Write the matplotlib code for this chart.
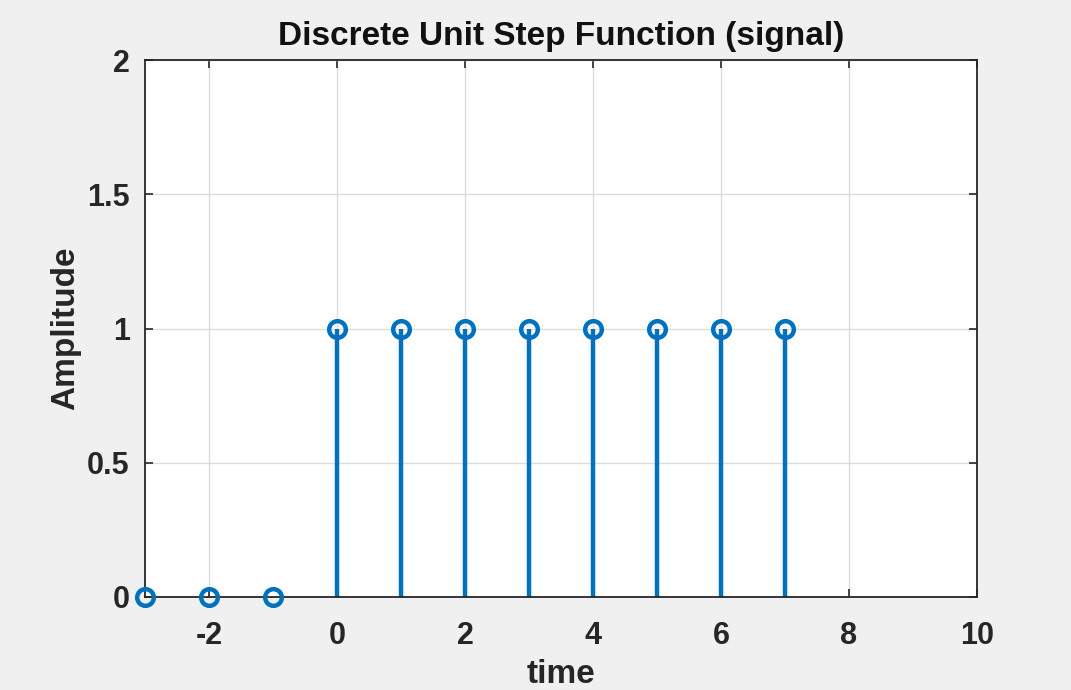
import numpy as np
import matplotlib.pyplot as plt

plt.rcParams['font.family'] = ['Liberation Sans', 'DejaVu Sans']
plt.rcParams['axes.unicode_minus'] = False

n = [-3, -2, -1, 0, 1, 2, 3, 4, 5, 6, 7]
u = [0, 0, 0, 1, 1, 1, 1, 1, 1, 1, 1]
xticks = [-2, 0, 2, 4, 6, 8, 10]
yticks = [0, 0.5, 1, 1.5, 2]
ytick_labels = ['0', '0.5', '1', '1.5', '2']

blue = '#0072BD'
dark = '#262626'

fig = plt.figure(figsize=(10.71, 6.90), dpi=100, facecolor='#f0f0f0')
ax = fig.add_axes([145 / 1071, 1 - 597 / 690, (977 - 145) / 1071, (597 - 60) / 690])

markerline, stemlines, baseline = ax.stem(n, u, basefmt=' ')
plt.setp(stemlines, color=blue, linewidth=3.2)
plt.setp(markerline, color=blue, marker='o', markersize=12, markerfacecolor='none',
         markeredgewidth=3.2, clip_on=False, zorder=5)

ax.set_xlim(-3, 10)
ax.set_ylim(0, 2)
ax.set_xticks(xticks)
ax.set_yticks(yticks)
ax.set_yticklabels(ytick_labels)
ax.grid(True, color='#dcdcdc', linewidth=1)
ax.set_axisbelow(True)

ax.tick_params(direction='in', top=True, right=True, length=6, width=1.2, colors=dark,
               labelsize=22)
ax.tick_params(axis='x', pad=17)
ax.tick_params(axis='y', pad=11)
for lab in ax.get_xticklabels() + ax.get_yticklabels():
    lab.set_fontweight('bold')
for sp in ax.spines.values():
    sp.set_color(dark)
    sp.set_linewidth(1.3)

ax.set_title('Discrete Unit Step Function (signal)', fontsize=24, fontweight='bold',
             color='#111111', pad=11)
ax.set_xlabel('time', fontsize=24, fontweight='bold', color=dark, labelpad=6)
ax.set_ylabel('Amplitude', fontsize=24, fontweight='bold', color=dark, labelpad=4)

fig.savefig('out.png', dpi=100, facecolor=fig.get_facecolor())
